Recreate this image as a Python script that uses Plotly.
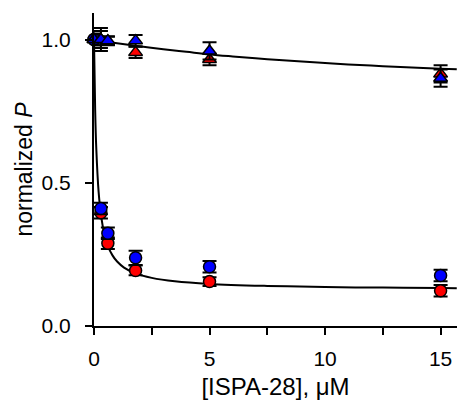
import plotly.graph_objects as go

# Concentrations (uM)
conc = [0, 0.3, 0.6, 1.8, 5, 15]

# Triangle series (near 1.0)
tri_red = [1.0, 1.0, 0.995, 0.955, 0.93, 0.88]
tri_red_err = [0.02, 0.03, 0.015, 0.02, 0.02, 0.03]
tri_blue = [1.0, 1.0, 0.996, 0.996, 0.96, 0.865]
tri_blue_err = [0.02, 0.04, 0.015, 0.02, 0.03, 0.03]

# Circle series (decaying)
circ_red = [1.0, 0.395, 0.289, 0.194, 0.155, 0.123]
circ_red_err = [0.01, 0.02, 0.02, 0.017, 0.015, 0.02]
circ_blue = [1.0, 0.41, 0.324, 0.238, 0.207, 0.176]
circ_blue_err = [0.01, 0.02, 0.02, 0.025, 0.02, 0.02]

# Fitted curves
fit_low_x = [0, 0.05, 0.1, 0.2, 0.3, 0.45, 0.6, 0.8, 1.0, 1.3, 1.8, 2.5, 3.5, 5, 7.5, 10, 12.5, 15, 15.7]
fit_low_y = [1.0, 0.756, 0.618, 0.468, 0.39, 0.32, 0.28, 0.2465, 0.225, 0.204, 0.1835, 0.168, 0.156, 0.147, 0.14, 0.136, 0.134, 0.1325, 0.132]
fit_high_x = [0, 0.6, 1, 1.8, 3, 4, 5, 6, 7.5, 9, 10, 11, 12.5, 14, 15, 15.7]
fit_high_y = [1.0, 0.992, 0.987, 0.978, 0.966, 0.957, 0.948, 0.941, 0.9315, 0.923, 0.918, 0.913, 0.907, 0.901, 0.898, 0.896]

x_ticks = [0, 5, 10, 15]
y_ticks = [0.0, 0.5, 1.0]
y_tick_text = ["0.0", "0.5", "1.0"]

FONT = "Liberation Sans, Arial, sans-serif"

fig = go.Figure()

fig.add_trace(go.Scatter(x=fit_low_x, y=fit_low_y, mode="lines", line=dict(color="black", width=2, shape="spline"), showlegend=False))
fig.add_trace(go.Scatter(x=fit_high_x, y=fit_high_y, mode="lines", line=dict(color="black", width=2, shape="spline"), showlegend=False))


def add_pts(y, err, color, symbol):
    fig.add_trace(go.Scatter(
        x=conc, y=y, mode="markers", cliponaxis=False, showlegend=False,
        marker=dict(color=color, symbol=symbol, size=12, line=dict(color="black", width=1.5)),
        error_y=dict(type="data", array=err, color="black", thickness=2, width=7),
    ))


add_pts(circ_red, circ_red_err, "#FF0000", "circle")
add_pts(circ_blue, circ_blue_err, "#0000FF", "circle")
add_pts(tri_red, tri_red_err, "#FF0000", "triangle-up")
add_pts(tri_blue, tri_blue_err, "#0000FF", "triangle-up")

fig.update_layout(
    width=457, height=400,
    margin=dict(l=94, r=0, t=13, b=74),
    plot_bgcolor="white", paper_bgcolor="white",
    font=dict(family=FONT, color="black", size=21),
    xaxis=dict(
        range=[0, 15.71], tickvals=x_ticks, ticks="outside", ticklen=7, tickwidth=2,
        tickcolor="black", showline=True, linecolor="black", linewidth=2, showgrid=False,
        zeroline=False, tickfont=dict(size=21), ticklabelstandoff=6, automargin=False,
        ticklabeloverflow="allow",
        minor=dict(tickvals=[2.5, 7.5, 12.5], ticks="outside", ticklen=7, tickwidth=2, tickcolor="black"),
        title=dict(text="[ISPA-28], μM", font=dict(size=24), standoff=13),
    ),
    yaxis=dict(
        range=[0, 1.0925], tickvals=y_ticks, ticktext=y_tick_text, ticks="outside", ticklen=7,
        tickwidth=2, tickcolor="black", showline=True, linecolor="black", linewidth=2,
        showgrid=False, zeroline=False, tickfont=dict(size=21), ticklabelstandoff=10,
        automargin=False,
        title=dict(text="normalized <i>P</i>", font=dict(size=23), standoff=3),
    ),
)

fig.write_html(
    "out.html",
    config={"displayModeBar": False},
    post_script="document.body.style.margin='0';document.body.style.overflow='hidden';",
)
